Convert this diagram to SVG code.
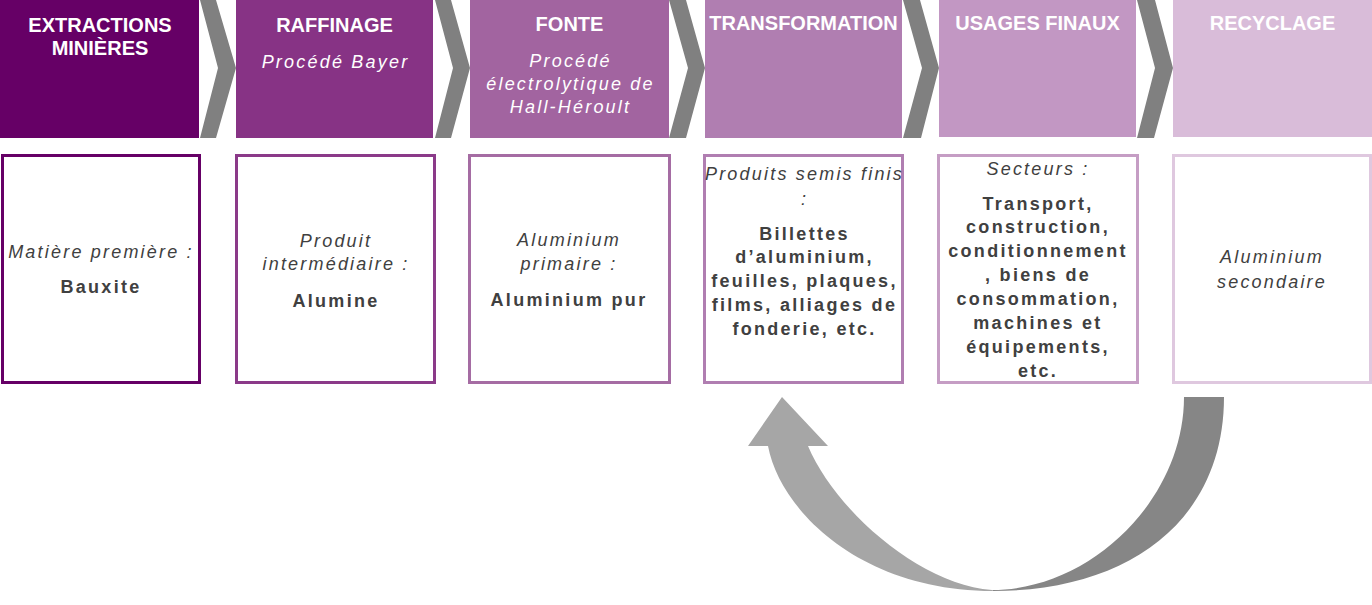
<svg xmlns="http://www.w3.org/2000/svg" width="1372" height="605" viewBox="0 0 1372 605">
  <style>
    .title { font-family: "Liberation Sans", Arial, sans-serif; font-weight: bold; font-size: 20px; fill: #ffffff; text-anchor: middle; }
    .sub { font-family: "Liberation Sans", Arial, sans-serif; font-style: italic; font-size: 18px; fill: #ffffff; text-anchor: middle; letter-spacing: 2.2px; }
    .it { font-family: "Liberation Sans", Arial, sans-serif; font-style: italic; font-size: 18px; fill: #404040; text-anchor: middle; letter-spacing: 2.2px; }
    .bd { font-family: "Liberation Sans", Arial, sans-serif; font-weight: bold; font-size: 18px; fill: #404040; text-anchor: middle; letter-spacing: 2.3px; }
    .box { fill: #ffffff; stroke-width: 3; }
    .chev { fill: #808080; }
  </style>
  <rect width="1372" height="605" fill="#ffffff"/>

  <!-- connectors -->
  <g id="connectors">
    <polygon class="chev" points="200,0 216,0 236,68 216,138 200,138 218,68"/>
    <polygon class="chev" points="435,0 451,0 470,68 451,138 435,138 453,68"/>
    <polygon class="chev" points="669,0 686,0 705,68 686,138 669,138 688,68"/>
    <polygon class="chev" points="903,0 920,0 939,68 921,138 903,138 922,68"/>
    <polygon class="chev" points="1137,0 1155,0 1173,68 1154,138 1137,138 1155,68"/>
    <g id="recycle-arrow">
      <path d="M1184,397 L1224,397 C1224,520 1130,591 993,591 L992,590 C1090,590 1184,500 1184,397 Z" fill="#868686"/>
      <path d="M993,591 C860,591 780,510 768,446 L748,446 L782,397 L828,446 L808,446 C835,510 920,585 992,590 Z" fill="#a6a6a6"/>
    </g>
  </g>

  <!-- header nodes -->
  <g id="h-extraction">
    <rect x="0" y="0" width="199" height="138" fill="#660066"/>
    <text class="title" x="100" y="32">EXTRACTIONS</text>
    <text class="title" x="100" y="55">MINIÈRES</text>
  </g>
  <g id="h-raffinage">
    <rect x="236" y="0" width="197" height="138" fill="#873385"/>
    <text class="title" x="334.5" y="32">RAFFINAGE</text>
    <text class="sub" x="335.5" y="68">Procédé Bayer</text>
  </g>
  <g id="h-fonte">
    <rect x="470" y="0" width="199" height="138" fill="#a264a0"/>
    <text class="title" x="569.5" y="31">FONTE</text>
    <text class="sub" x="570.5" y="67">Procédé</text>
    <text class="sub" x="570.5" y="90">électrolytique de</text>
    <text class="sub" x="570.5" y="113">Hall-Héroult</text>
  </g>
  <g id="h-transformation">
    <rect x="705" y="0" width="197" height="138" fill="#b07eb1"/>
    <text class="title" x="803.5" y="30">TRANSFORMATION</text>
  </g>
  <g id="h-usages">
    <rect x="939" y="0" width="197" height="137" fill="#c297c3"/>
    <text class="title" x="1037.5" y="30">USAGES FINAUX</text>
  </g>
  <g id="h-recyclage">
    <rect x="1173" y="0" width="199" height="137" fill="#d9bcd9"/>
    <text class="title" x="1272.5" y="30">RECYCLAGE</text>
  </g>

  <!-- content nodes -->
  <g id="b-extraction">
    <rect class="box" x="2.5" y="155.5" width="197" height="227" stroke="#660066"/>
    <text class="it" x="101" y="258">Matière première :</text>
    <text class="bd" x="101" y="293">Bauxite</text>
  </g>
  <g id="b-raffinage">
    <rect class="box" x="236.5" y="155.5" width="198" height="227" stroke="#8b3a89"/>
    <text class="it" x="336" y="247">Produit</text>
    <text class="it" x="336" y="270">intermédiaire :</text>
    <text class="bd" x="336" y="307">Alumine</text>
  </g>
  <g id="b-fonte">
    <rect class="box" x="469.5" y="155.5" width="200" height="227" stroke="#a56ca3"/>
    <text class="it" x="569" y="246">Aluminium</text>
    <text class="it" x="569" y="270">primaire :</text>
    <text class="bd" x="569" y="306">Aluminium pur</text>
  </g>
  <g id="b-transformation">
    <rect class="box" x="704.5" y="155.5" width="198" height="227" stroke="#b07eb1"/>
    <text class="it" x="804.5" y="180">Produits semis finis</text>
    <text class="it" x="804.5" y="205">:</text>
    <text class="bd" x="804.5" y="240">Billettes</text>
    <text class="bd" x="804.5" y="263">d’aluminium,</text>
    <text class="bd" x="804.5" y="287">feuilles, plaques,</text>
    <text class="bd" x="804.5" y="311">films, alliages de</text>
    <text class="bd" x="804.5" y="335">fonderie, etc.</text>
  </g>
  <g id="b-usages">
    <rect class="box" x="938.5" y="155.5" width="199" height="227" stroke="#c59dc4"/>
    <text class="it" x="1038" y="175">Secteurs :</text>
    <text class="bd" x="1038" y="210">Transport,</text>
    <text class="bd" x="1038" y="233">construction,</text>
    <text class="bd" x="1038" y="257">conditionnement</text>
    <text class="bd" x="1038" y="281">, biens de</text>
    <text class="bd" x="1038" y="305">consommation,</text>
    <text class="bd" x="1038" y="329">machines et</text>
    <text class="bd" x="1038" y="353">équipements,</text>
    <text class="bd" x="1038" y="377">etc.</text>
  </g>
  <g id="b-recyclage">
    <rect class="box" x="1173.5" y="155.5" width="197" height="227" stroke="#dfc8df"/>
    <text class="it" x="1272" y="263">Aluminium</text>
    <text class="it" x="1272" y="288">secondaire</text>
  </g>
</svg>
